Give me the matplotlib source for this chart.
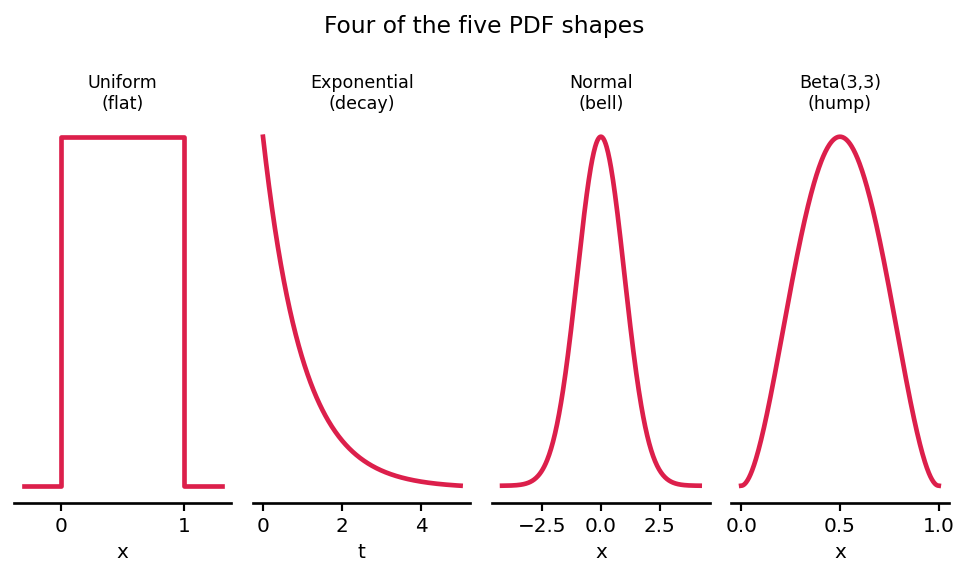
import numpy as np
import matplotlib
matplotlib.use("Agg")
import matplotlib.pyplot as plt

titles = ["Uniform\n(flat)", "Exponential\n(decay)", "Normal\n(bell)", "Beta(3,3)\n(hump)"]
xlabels = ["x", "t", "x", "x"]
x_ranges = [(-0.3, 1.3), (0.0, 5.0), (-4.2, 4.2), (0.0, 1.0)]
uniform_bounds = (0.0, 1.0)
exp_rate = 1.0
normal_mu, normal_sigma = 0.0, 1.0
beta_a, beta_b = 3, 3
xticks = [[0, 1], [0, 2, 4], [-2.5, 0.0, 2.5], [0.0, 0.5, 1.0]]
color = "#DC1F4B"

def curves():
    out = []
    lo, hi = x_ranges[0]
    a, b = uniform_bounds
    xu = np.array([lo, a, a, b, b, hi])
    yu = np.array([0, 0, 1, 1, 0, 0], dtype=float)
    out.append((xu, yu))
    t = np.linspace(*x_ranges[1], 400)
    out.append((t, np.exp(-exp_rate * t)))
    xn = np.linspace(*x_ranges[2], 400)
    out.append((xn, np.exp(-0.5 * ((xn - normal_mu) / normal_sigma) ** 2)))
    xb = np.linspace(*x_ranges[3], 400)
    yb = xb ** (beta_a - 1) * (1 - xb) ** (beta_b - 1)
    out.append((xb, yb / yb.max()))
    return out

fig, axes = plt.subplots(1, 4, figsize=(968 / 120, 579 / 120), dpi=120)
for ax, (xv, yv), ttl, xl, xt in zip(axes, curves(), titles, xlabels, xticks):
    ax.plot(xv, yv, color=color, lw=2.8)
    ax.set_title(ttl, fontsize=10.5)
    ax.set_xlabel(xl, fontsize=12)
    ax.set_xticks(xt)
    ax.set_yticks([])
    ax.tick_params(axis="x", labelsize=12, width=1.3, length=5)
    for s in ["left", "top", "right"]:
        ax.spines[s].set_visible(False)
    ax.spines["bottom"].set_linewidth(1.6)
fig.suptitle("Four of the five PDF shapes", fontsize=14, y=0.955, va="center")
fig.subplots_adjust(left=0.0145, right=0.98, top=0.794, bottom=0.131, wspace=0.1)
fig.savefig("out.png", dpi=120)
